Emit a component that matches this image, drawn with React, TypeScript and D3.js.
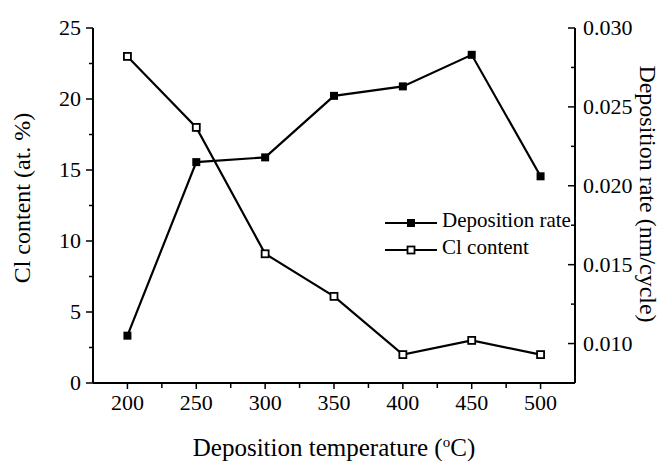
import React from "react";
import * as d3 from "d3";

const temperatures = [200, 250, 300, 350, 400, 450, 500];
const depositionRate = [0.0105, 0.0215, 0.0218, 0.0257, 0.0263, 0.0283, 0.0206];
const clContent = [23.0, 18.0, 9.1, 6.1, 2.0, 3.0, 2.0];
const xTicks = [200, 250, 300, 350, 400, 450, 500];
const xMinor = [225, 275, 325, 375, 425, 475];
const leftTicks = [0, 5, 10, 15, 20, 25];
const leftMinor = [2.5, 7.5, 12.5, 17.5, 22.5];
const rightTicks = [0.01, 0.015, 0.02, 0.025, 0.03];
const rightMinor = [0.0075, 0.0125, 0.0175, 0.0225, 0.0275];

const FONT = "Liberation Serif";

export default function App() {
  const W = 660, H = 461;
  const x = d3.scaleLinear().domain([175, 525]).range([93, 575]);
  const yL = d3.scaleLinear().domain([0, 25]).range([383, 28]);
  const yR = d3.scaleLinear().domain([0.0075, 0.03]).range([383, 28]);

  const rateLine = d3.line<number>().x((_, i) => x(temperatures[i])).y((d) => yR(d))(depositionRate) || "";
  const clLine = d3.line<number>().x((_, i) => x(temperatures[i])).y((d) => yL(d))(clContent) || "";

  const sw = 2.2;
  const ts = { fontFamily: FONT };
  return (
    <svg width={W} height={H} style={{ position: "absolute", left: 0, top: 0, background: "#fff", fontFamily: FONT }}>
      <rect x={0} y={0} width={W} height={H} fill="#fff" />
      <line x1={x(175)} x2={x(525)} y1={yL(0)} y2={yL(0)} stroke="#000" strokeWidth={2} />
      <line x1={x(175)} x2={x(175)} y1={yL(0)} y2={yL(25)} stroke="#000" strokeWidth={2} />
      <line x1={x(525)} x2={x(525)} y1={yL(0)} y2={yL(25)} stroke="#000" strokeWidth={2} />
      {xTicks.map((t) => (
        <g key={"xt" + t}>
          <line x1={x(t)} x2={x(t)} y1={yL(0)} y2={yL(0) + 6} stroke="#000" strokeWidth={1.5} />
          <text x={x(t)} y={410} textAnchor="middle" style={ts} fontSize={22}>{t}</text>
        </g>
      ))}
      {xMinor.map((t) => (
        <line key={"xm" + t} x1={x(t)} x2={x(t)} y1={yL(0)} y2={yL(0) + 5} stroke="#000" strokeWidth={1.5} />
      ))}
      {leftTicks.map((t) => (
        <g key={"lt" + t}>
          <line x1={x(175) - 7} x2={x(175)} y1={yL(t)} y2={yL(t)} stroke="#000" strokeWidth={1.5} />
          <text x={81} y={yL(t) + 7} textAnchor="end" style={ts} fontSize={22}>{t}</text>
        </g>
      ))}
      {leftMinor.map((t) => (
        <line key={"lm" + t} x1={x(175) - 4} x2={x(175)} y1={yL(t)} y2={yL(t)} stroke="#000" strokeWidth={1.5} />
      ))}
      {rightTicks.map((t) => (
        <g key={"rt" + t}>
          <line x1={x(525) - 7} x2={x(525)} y1={yR(t)} y2={yR(t)} stroke="#000" strokeWidth={1.5} />
          <text x={583} y={yR(t) + 7} textAnchor="start" style={ts} fontSize={22}>{t.toFixed(3)}</text>
        </g>
      ))}
      {rightMinor.map((t) => (
        <line key={"rm" + t} x1={x(525) - 4} x2={x(525)} y1={yR(t)} y2={yR(t)} stroke="#000" strokeWidth={1.5} />
      ))}
      <path d={rateLine} fill="none" stroke="#000" strokeWidth={sw} />
      <path d={clLine} fill="none" stroke="#000" strokeWidth={sw} />
      {depositionRate.map((d, i) => (
        <rect key={"r" + i} x={x(temperatures[i]) - 4} y={yR(d) - 4} width={8} height={8} fill="#000" />
      ))}
      {clContent.map((d, i) => (
        <rect key={"c" + i} x={x(temperatures[i]) - 3.5} y={yL(d) - 3.5} width={7} height={7} fill="#fff" stroke="#000" strokeWidth={1.8} />
      ))}
      <line x1={385} x2={437} y1={223} y2={223} stroke="#000" strokeWidth={sw} />
      <rect x={407} y={219} width={8} height={8} fill="#000" />
      <text x={442} y={227} style={ts} fontSize={21}>Deposition rate</text>
      <line x1={385} x2={437} y1={250} y2={250} stroke="#000" strokeWidth={sw} />
      <rect x={407.5} y={246.5} width={7} height={7} fill="#fff" stroke="#000" strokeWidth={1.8} />
      <text x={442} y={254} style={ts} fontSize={21}>Cl content</text>
      <text x={334} y={456} textAnchor="middle" style={ts} fontSize={25}>
        Deposition temperature (<tspan dy={-9} fontSize={15}>o</tspan><tspan dy={9}>C)</tspan>
      </text>
      <text transform={`translate(30,198) rotate(-90)`} textAnchor="middle" style={ts} fontSize={24}>Cl content (at. %)</text>
      <text transform={`translate(640,194) rotate(90)`} textAnchor="middle" style={ts} fontSize={24}>Deposition rate (nm/cycle)</text>
    </svg>
  );
}
